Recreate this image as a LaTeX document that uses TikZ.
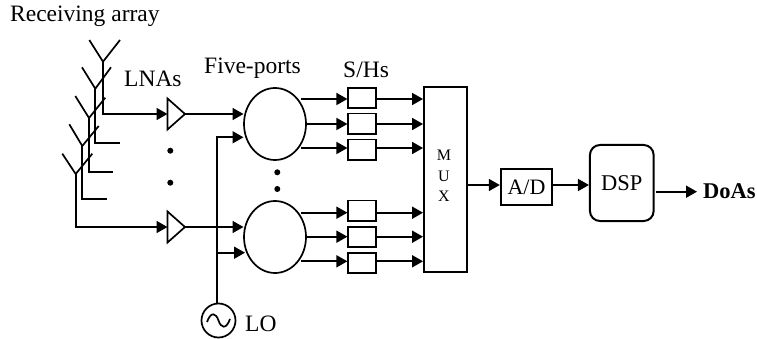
\documentclass[tikz,border=0pt]{standalone}
\usepackage{fontspec}
\setmainfont{Liberation Serif}
\usetikzlibrary{arrows.meta,shapes.geometric}
\tikzset{
  wire/.style={line width=1.7pt,line join=miter},
  arr/.style={wire,-{Triangle[length=11pt,width=12pt]}},
  lbl/.style={inner sep=0pt,anchor=base west,font=\fontsize{23.5}{26}\selectfont},
  smallbox/.style={draw,line width=1.8pt,minimum width=28pt,minimum height=20.5pt,inner sep=0pt},
  port/.style={draw,ellipse,line width=1.7pt,minimum width=62pt,minimum height=72pt,inner sep=0pt},
  amp/.style={draw,isosceles triangle,isosceles triangle stretches,shape border rotate=0,line width=1.7pt,minimum height=17.5pt,minimum width=31pt,inner sep=0pt,outer sep=0pt,anchor=lower side},
  dot/.style={circle,fill,inner sep=0pt,minimum size=6pt},
  muxletter/.style={inner sep=0pt,font=\fontsize{16}{18}\selectfont},
}
\begin{document}
\begin{tikzpicture}[x=1pt,y=-1pt]
\useasboundingbox (0,0) rectangle (757,339);
% text
\node[lbl] (rx) at (10,22) {Receiving array};
\node[lbl] (lnas) at (124,87) {LNAs};
\node[lbl] (fp) at (204,74) {Five-ports};
\node[lbl] (sh) at (343,78) {S/Hs};
% antennas
\coordinate (j1) at (103,61.7); \coordinate (l1) at (89.3,40); \coordinate (r1) at (120,40);
\coordinate (j2) at (95.3,88.7); \coordinate (l2) at (82,67.3); \coordinate (r2) at (111,67.3);
\coordinate (j3) at (89,118); \coordinate (l3) at (75.3,96); \coordinate (r3) at (105.3,97.7);
\coordinate (j4) at (82.3,146); \coordinate (l4) at (69.3,124.3); \coordinate (r4) at (98.7,126);
\coordinate (j5) at (75.7,174); \coordinate (l5) at (62.3,153.7); \coordinate (r5) at (92.3,153.7);
\coordinate (e2) at (120,142.7); \coordinate (e3) at (113,171.7); \coordinate (e4) at (107.3,199.3);
\foreach \i in {1,...,5} \draw[wire] (l\i) -- (j\i) -- (r\i);
\draw[wire] (j2) |- (e2);
\draw[wire] (j3) |- (e3);
\draw[wire] (j4) |- (e4);
% amps
\node[amp] (a1) at (167.5,114) {};
\node[amp] (a2) at (167.5,227) {};
\draw[arr] (j1) |- (a1.lower side);
\draw[arr] (j5) |- (a2.lower side);
\node[dot] (d1) at (170.3,150.7) {};
\node[dot] (d2) at (170.3,182.7) {};
% ports
\node[port] (p1) at (275,124) {};
\node[port] (p2) at (275,237) {};
\node[dot] (d3) at (277.3,172.3) {};
\node[dot] (d4) at (277.3,189) {};
\coordinate (p1a) at (243.5,114); \coordinate (p1b) at (243.5,137.3);
\coordinate (p2a) at (243.5,227); \coordinate (p2b) at (245,252.7);
\draw[arr] (a1.apex) -- (p1a);
\draw[arr] (a2.apex) -- (p2a);
% LO
\node[draw,circle,line width=1.7pt,minimum size=34pt,inner sep=0pt] (lo) at (218.5,320.5) {};
\draw[line width=1.7pt] (207,322) .. controls (211,311) and (216,313) .. (218.5,320.5) .. controls (221,328) and (226,330) .. (230,319);
\node[lbl] (lot) at (245,331) {LO};
\coordinate (bus) at (217.3,137.3);
\draw[wire] (lo.north -| bus) -- (bus) -- ++(-0.85,0);
\draw[arr] (bus) -- (p1b);
\draw[arr] (bus |- p2b) -- (p2b);
% S/H boxes
\node[smallbox] (s1) at (362.3,98) {};
\node[smallbox] (s2) at (362.3,123.8) {};
\node[smallbox] (s3) at (362.3,149.8) {};
\node[smallbox] (s4) at (362.3,210.7) {};
\node[smallbox] (s5) at (362.3,237) {};
\node[smallbox] (s6) at (362.3,263) {};
% MUX
\node[draw,line width=1.8pt,minimum width=43.3pt,minimum height=185pt,inner sep=0pt] (mux) at (445.6,179.8) {};
\node[muxletter] (mm) at (444,155) {M};
\node[muxletter] (mu) at (444,176.7) {U};
\node[muxletter] (mx) at (444,196.7) {X};
% port to S/H to MUX
\foreach \i/\p/\y in {1/p1/99,2/p1/124,3/p1/148,4/p2/212.7,5/p2/236.7,6/p2/261.3}{
  \coordinate (o\i) at (\ifnum\i=2 306\else\ifnum\i=5 306\else 301\fi\fi,\y);
  \draw[arr] (o\i) -- (o\i -| s\i.west);
  \draw[arr] (o\i -| s\i.east) -- (o\i -| mux.west);
}
% A/D, DSP
\node[smallbox,minimum width=51.6pt,minimum height=36pt,font=\fontsize{22}{24}\selectfont] (ad) at (526.5,187) {A/D};
\node[draw,rounded corners=10pt,line width=2pt,minimum width=63.7pt,minimum height=76pt,inner sep=0pt,font=\fontsize{22.5}{24}\selectfont] (dsp) at (621.8,183) {DSP};
\coordinate (muxo) at (467.3,185);
\draw[arr] (muxo) -- (muxo -| ad.west);
\draw[arr] (muxo -| ad.east) -- (muxo -| dsp.west);
\node[lbl,font=\bfseries\fontsize{22.5}{24}\selectfont] (doa) at (703,198) {DoAs};
\coordinate (dspo) at (656,191.7);
\coordinate (dspe) at (697,191.7);
\draw[arr] (dspo) -- (dspe);
\end{tikzpicture}
\end{document}
